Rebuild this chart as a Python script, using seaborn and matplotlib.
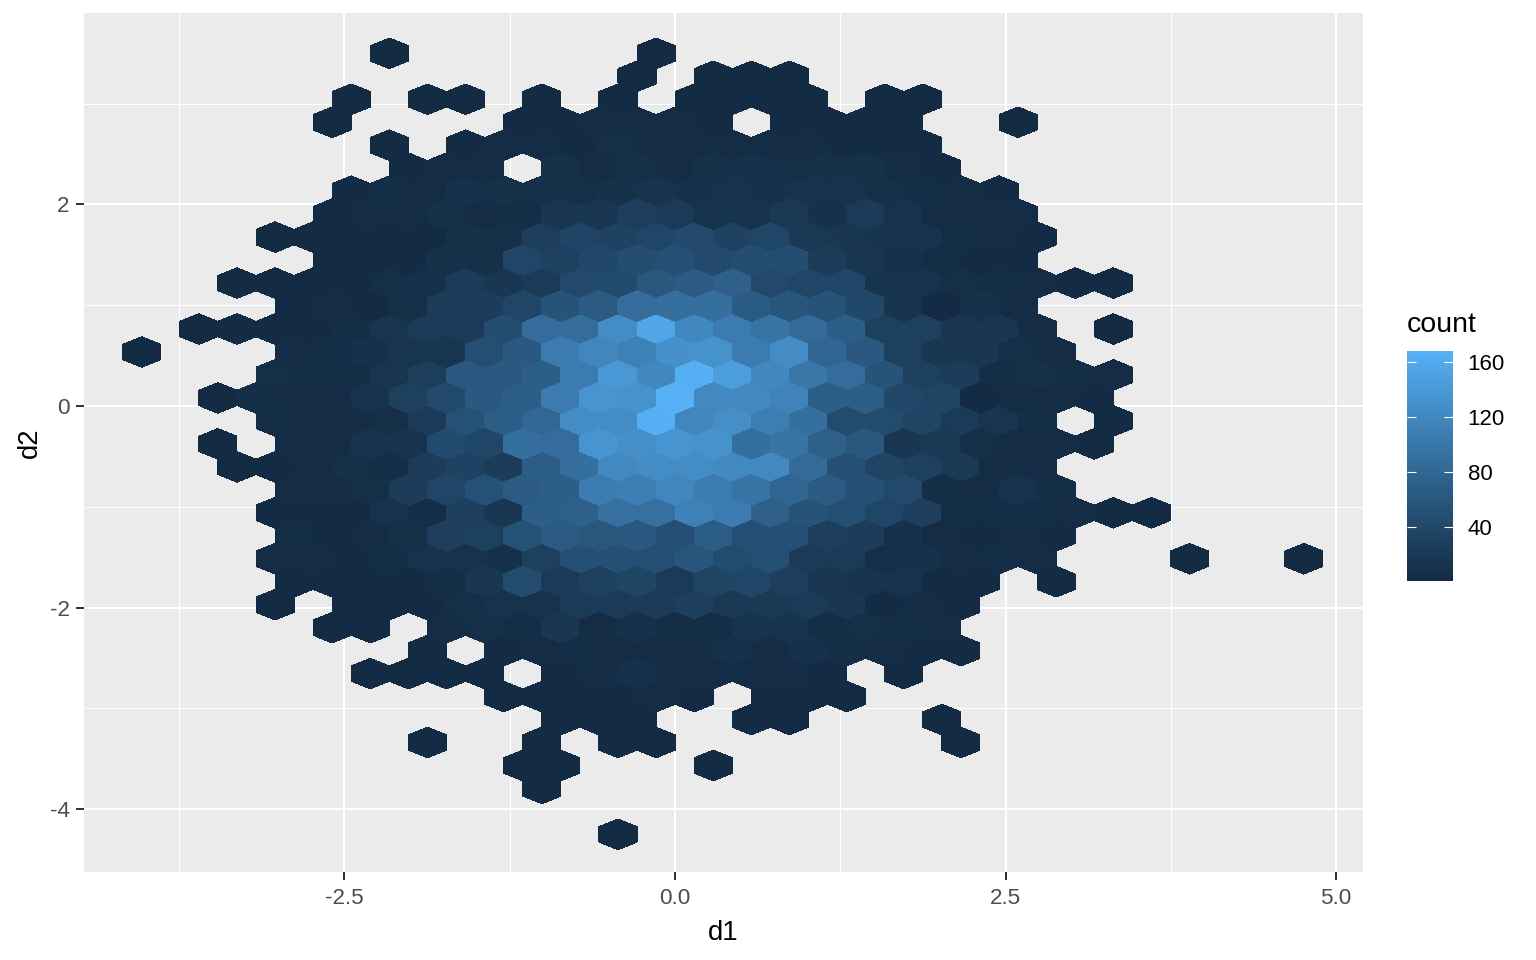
import numpy as np
import matplotlib
matplotlib.use("Agg")
import matplotlib.pyplot as plt
from matplotlib.colors import ListedColormap
import seaborn as sns

# Hexagon bins: row number (bottom = 0), first column of the row, counts every
# second column from there (0 = empty bin).
row_numbers = [34, 33, 32, 31, 30, 29, 28, 27, 26, 25, 24, 23, 22, 21, 20, 19, 18, 17,
               16, 15, 14, 13, 12, 11, 10, 9, 8, 7, 6, 5, 4, 3, 2, 0]
row_first_col = [-12, 1, -14, -15, -12, -11, -14, -15, -18, -15, -20, -17, -22, -25, -18, -21, -18, -21,
                 -20, -17, -18, -17, -18, -17, -18, -15, -10, -13, -6, -3, -10, -5, -4, 0]
row_counts = [
    [1, 0, 0, 0, 0, 0, 0, 1],
    [1, 0, 1, 1, 1],
    [1, 0, 1, 1, 0, 1, 0, 1, 0, 1, 2, 1, 1, 0, 1, 1],
    [1, 0, 0, 0, 0, 2, 2, 3, 3, 3, 2, 0, 2, 2, 2, 1, 0, 0, 1],
    [1, 0, 1, 3, 3, 2, 7, 3, 4, 4, 3, 3, 2, 2, 1],
    [2, 3, 4, 0, 8, 4, 8, 4, 8, 10, 7, 9, 9, 4, 2],
    [2, 5, 4, 10, 9, 8, 7, 9, 13, 10, 12, 10, 12, 11, 8, 6, 4, 2],
    [2, 3, 3, 8, 3, 5, 17, 17, 27, 22, 14, 14, 20, 10, 23, 12, 4, 3, 3],
    [1, 1, 2, 2, 2, 8, 8, 27, 36, 33, 37, 44, 33, 38, 20, 17, 14, 14, 5, 3, 2],
    [2, 2, 2, 9, 8, 37, 32, 40, 47, 50, 44, 47, 47, 25, 16, 10, 6, 1, 2],
    [1, 1, 1, 2, 7, 10, 24, 17, 22, 42, 43, 60, 65, 72, 42, 38, 38, 14, 11, 7, 6, 4, 2, 1],
    [2, 3, 1, 7, 25, 25, 38, 55, 65, 88, 90, 90, 65, 58, 55, 40, 14, 2, 9, 4],
    [1, 1, 2, 2, 5, 15, 22, 22, 47, 88, 87, 125, 155, 120, 105, 95, 85, 68, 30, 30, 18, 18, 3, 0, 1],
    [1, 0, 0, 0, 3, 5, 10, 15, 15, 48, 62, 105, 118, 112, 130, 132, 105, 125, 78, 62, 30, 18, 18, 7, 3],
    [7, 6, 6, 15, 27, 62, 62, 70, 105, 138, 120, 166, 145, 120, 100, 88, 55, 30, 25, 5, 8, 5, 3],
    [1, 5, 4, 3, 12, 30, 42, 62, 70, 105, 135, 132, 168, 122, 122, 115, 70, 70, 40, 35, 2, 4, 4, 2],
    [5, 3, 4, 7, 22, 52, 68, 80, 125, 125, 165, 118, 128, 108, 90, 45, 45, 35, 22, 15, 5, 0, 1],
    [1, 0, 3, 3, 13, 13, 43, 38, 90, 88, 135, 128, 135, 132, 90, 98, 72, 60, 18, 20, 7, 4, 3, 1],
    [1, 2, 3, 8, 5, 25, 33, 25, 68, 90, 122, 125, 125, 122, 122, 85, 50, 35, 30, 20, 4, 3],
    [4, 4, 7, 25, 38, 52, 65, 70, 105, 110, 118, 105, 95, 78, 65, 50, 42, 5, 3, 12, 5],
    [2, 2, 2, 12, 5, 28, 18, 70, 72, 92, 92, 112, 105, 72, 55, 48, 38, 28, 5, 5, 5, 3, 1, 1],
    [5, 1, 4, 8, 28, 30, 52, 65, 60, 62, 50, 68, 48, 50, 28, 25, 10, 4, 1, 3, 2],
    [4, 4, 2, 5, 12, 12, 10, 30, 50, 50, 48, 58, 45, 48, 22, 22, 7, 10, 3, 6, 3, 0, 0, 0, 1, 0, 0, 1],
    [2, 2, 1, 1, 5, 18, 45, 22, 32, 35, 22, 35, 38, 28, 16, 13, 12, 1, 1, 0, 1],
    [1, 0, 1, 1, 2, 7, 12, 12, 22, 22, 22, 28, 20, 20, 22, 18, 2, 3, 2],
    [1, 1, 0, 3, 7, 6, 18, 4, 10, 5, 6, 14, 14, 5, 7, 6, 3],
    [1, 0, 2, 4, 5, 4, 4, 4, 10, 3, 10, 5, 3, 2, 1],
    [1, 1, 1, 1, 0, 2, 3, 10, 3, 3, 3, 3, 2, 0, 1],
    [1, 2, 2, 2, 3, 2, 0, 2, 2, 1],
    [2, 2, 2, 0, 0, 1, 2, 0, 0, 0, 1],
    [1, 0, 0, 1, 0, 1, 1, 0, 0, 0, 0, 0, 0, 0, 1],
    [1, 1, 0, 0, 0, 1],
    [1],
    [1],
]

x_ticks = [-2.5, 0.0, 2.5, 5.0]
x_minor = [-3.75, -1.25, 1.25, 3.75]
y_ticks = [-4, -2, 0, 2]
y_minor = [-3, -1, 1, 3]
legend_ticks = [40, 80, 120, 160]
count_min, count_max = 1, 168

# Bin lattice in data units
d1_origin, d1_step = -0.431, 0.1441
d2_origin, d2_step = -4.250, 0.2279

sns.set_theme(style="darkgrid", rc={
    "axes.facecolor": "#EBEBEB", "figure.facecolor": "white",
    "grid.color": "white", "axes.edgecolor": "#EBEBEB", "axes.linewidth": 0,
})
plt.rcParams["font.family"] = ["Liberation Sans", "DejaVu Sans"]


def srgb_to_lab(rgb):
    c = np.asarray(rgb, float)
    c = np.where(c > 0.04045, ((c + 0.055) / 1.055) ** 2.4, c / 12.92)
    m = np.array([[0.4124, 0.3576, 0.1805], [0.2126, 0.7152, 0.0722], [0.0193, 0.1192, 0.9505]])
    xyz = m @ c / np.array([0.95047, 1.0, 1.08883])
    f = np.where(xyz > 0.008856, np.cbrt(xyz), 7.787 * xyz + 16 / 116)
    return np.array([116 * f[1] - 16, 500 * (f[0] - f[1]), 200 * (f[1] - f[2])])


def lab_to_srgb(lab):
    fy = (lab[0] + 16) / 116
    f = np.array([fy + lab[1] / 500, fy, fy - lab[2] / 200])
    xyz = np.where(f ** 3 > 0.008856, f ** 3, (f - 16 / 116) / 7.787) * np.array([0.95047, 1.0, 1.08883])
    m = np.array([[3.2406, -1.5372, -0.4986], [-0.9689, 1.8758, 0.0415], [0.0557, -0.2040, 1.0570]])
    c = np.clip(m @ xyz, 0, 1)
    return np.where(c > 0.0031308, 1.055 * c ** (1 / 2.4) - 0.055, 12.92 * c)


low = srgb_to_lab(matplotlib.colors.to_rgb("#132B43"))
high = srgb_to_lab(matplotlib.colors.to_rgb("#56B1F7"))
cmap = ListedColormap([lab_to_srgb(low + (high - low) * t) for t in np.linspace(0, 1, 256)])

d1, d2, counts = [], [], []
for row, first, vals in zip(row_numbers, row_first_col, row_counts):
    for k, v in enumerate(vals):
        if v > 0:
            d1.append(d1_origin + (first + 2 * k) * d1_step)
            d2.append(d2_origin + row * d2_step)
            counts.append(v)

W, H = 1536, 960
fig = plt.figure(figsize=(W / 100, H / 100), dpi=100)
ax = fig.add_axes([84 / W, 1 - 872 / H, (1363 - 84) / W, (872 - 13) / H])

sx, sy = 2 * d1_step, 2 * d2_step
hb = ax.hexbin(d1, d2, C=counts, reduce_C_function=np.sum, gridsize=(34, 19),
               extent=(d1_origin - 14 * sx, d1_origin + 20 * sx, d2_origin - sy, d2_origin + 18 * sy),
               cmap=cmap, vmin=count_min, vmax=count_max, edgecolors="none", linewidths=0, zorder=3)
hb.set_antialiased(False)

ax.set_xlim(-4.47, 5.204)
ax.set_ylim(-4.623, 3.899)
ax.set_xticks(x_ticks)
ax.set_xticklabels(["-2.5", "0.0", "2.5", "5.0"])
ax.set_yticks(y_ticks)
ax.set_yticklabels(["-4", "-2", "0", "2"])
ax.set_xticks(x_minor, minor=True)
ax.set_yticks(y_minor, minor=True)
ax.grid(True, which="major", color="white", linewidth=1.5)
ax.grid(True, which="minor", color="white", linewidth=0.75)
ax.set_axisbelow(True)
ax.tick_params(axis="both", which="major", length=5.76, width=1.44, color="#333333",
               labelcolor="#4D4D4D", labelsize=16.2, pad=4.5, bottom=True, left=True)
ax.tick_params(axis="x", which="major", pad=5.7)
ax.tick_params(axis="both", which="minor", length=0)
for s in ax.spines.values():
    s.set_visible(False)
ax.set_xlabel("d1", fontsize=19.8, color="black", labelpad=8.2)
ax.set_ylabel("d2", fontsize=19.8, color="black", labelpad=5)

cax = fig.add_axes([1407 / W, 1 - 581 / H, 46 / W, 230 / H])
cbar = fig.colorbar(hb, cax=cax)
cbar.outline.set_visible(False)
cbar.set_ticks(legend_ticks)
cax.tick_params(length=0, labelsize=16, labelcolor="black", pad=10.5)
cax.grid(False)
trans = cax.get_yaxis_transform()
cax.hlines(legend_ticks, 0, 0.2, colors="white", linewidth=0.8, transform=trans)
cax.hlines(legend_ticks, 0.8, 1, colors="white", linewidth=0.8, transform=trans)
fig.text(1407 / W, 1 - 325 / H, "count", fontsize=20.5, color="black", ha="left", va="center")

fig.savefig("out.png", dpi=100)
